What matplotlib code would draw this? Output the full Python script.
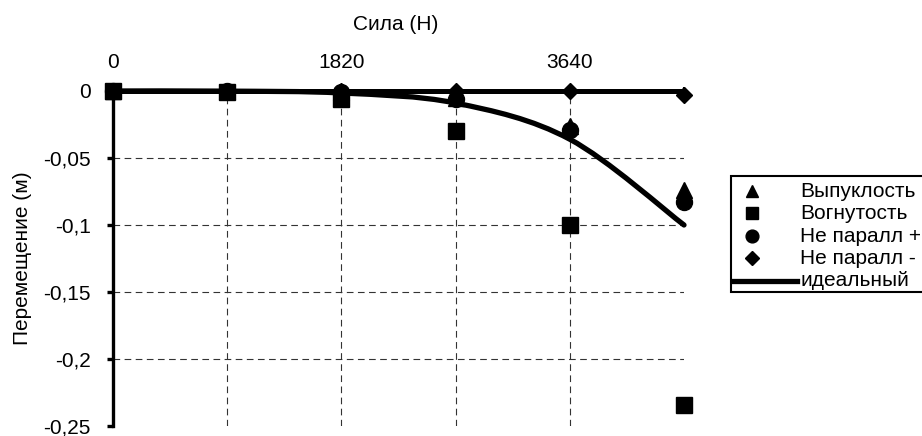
import numpy as np
import matplotlib
matplotlib.use("Agg")
import matplotlib.pyplot as plt
from matplotlib.path import Path
from matplotlib.patches import PathPatch, Rectangle
from matplotlib.lines import Line2D
from matplotlib.ticker import FuncFormatter

plt.rcParams['font.family'] = ['Liberation Sans', 'DejaVu Sans']

force = [0, 910, 1820, 2730, 3640, 4550]
vypukl = [0, 0, -0.001, -0.005, -0.026, -0.074]
vognut = [0, -0.001, -0.006, -0.030, -0.100, -0.234]
neparal_plus = [0, 0, -0.001, -0.006, -0.029, -0.083]
neparal_minus = [0, 0, 0, 0, 0, -0.003]
ideal = [0, -0.0001, -0.0015, -0.009, -0.036, -0.100]

x_labels = {0: '0', 1820: '1820', 3640: '3640'}
y_ticks = [0, -0.05, -0.1, -0.15, -0.2, -0.25]
labels = ['Выпуклость', 'Вогнутость', 'Не паралл +', 'Не паралл -', 'идеальный']

W, H = 922, 436
FS = 15

fig = plt.figure(figsize=(W / 100, H / 100), dpi=100)
ax = fig.add_axes([113/W, 10/H, 571/W, 335/H])
ax.set_xlim(0, 4550)
ax.set_ylim(-0.25, 0)

# dashed grid
for xv in force[1:-1]:
    ax.axvline(xv, color='#333333', lw=0.8, ls=(0, (6, 4)), zorder=1)
for yv in y_ticks[1:-1]:
    ax.axhline(yv, color='#333333', lw=0.8, ls=(0, (6, 4)), zorder=1)

for s in ['bottom', 'right']:
    ax.spines[s].set_visible(False)
ax.spines['left'].set_linewidth(2.4)
ax.spines['top'].set_linewidth(3.6)
ax.spines['left'].set_zorder(3)
ax.spines['top'].set_zorder(3)

ax.xaxis.tick_top()
ax.set_xticks(force)
ax.set_xticklabels([x_labels.get(f, '') for f in force])
ax.tick_params(axis='x', direction='out', length=3, width=1.5, pad=11, labelsize=FS)
ax.set_yticks(y_ticks)
ax.yaxis.set_major_formatter(FuncFormatter(lambda v, p: ('%g' % v).replace('.', ',')))
ax.tick_params(axis='y', direction='out', length=4, width=2.4, pad=12, labelsize=FS)

# smoothed ideal line, excel-like
pts = np.column_stack([force, ideal]).astype(float)
ext = np.vstack([pts[0], pts, pts[-1]])
verts = [tuple(pts[0])]
codes = [Path.MOVETO]
for i in range(len(pts) - 1):
    p0, p1, p2, p3 = ext[i], ext[i+1], ext[i+2], ext[i+3]
    c1 = p1 + (p2 - p0) / 6.0
    c2 = p2 - (p3 - p1) / 6.0
    verts += [tuple(c1), tuple(c2), tuple(p2)]
    codes += [Path.CURVE4] * 3
ax.add_patch(PathPatch(Path(verts, codes), facecolor='none', edgecolor='black',
                       lw=3.8, capstyle='round', zorder=4, clip_on=False))

styles = [('^', 11.5), ('s', 11), ('o', 11.5), ('D', 8.5)]
for ys, (mk, ms) in zip([vypukl, vognut, neparal_plus, neparal_minus], styles):
    ax.plot(force, ys, ls='none', marker=mk, ms=ms, color='black', zorder=5, clip_on=False)

fig.text(396/W, 1 - 24/H, 'Сила (Н)', ha='center', va='center', fontsize=FS)
fig.text(22/W, 1 - 258/H, 'Перемещение (м)', ha='center', va='center', rotation=90, fontsize=FS)

# legend drawn by hand
fig.patches.append(Rectangle((731/W, 1 - 292/H), 200/W, 116/H, transform=fig.transFigure,
                             facecolor='white', edgecolor='black', lw=1.5))
row_y = [191, 213, 236, 258, 281]
for (mk, ms), lab, ry in zip(styles, labels, row_y):
    fig.lines.append(Line2D([752/W], [1 - ry/H], ls='none', marker=mk, ms=ms * 0.8,
                            color='black', transform=fig.transFigure))
    fig.text(800/W, 1 - ry/H, lab, ha='left', va='center', fontsize=FS)
fig.lines.append(Line2D([733/W, 797/W], [1 - row_y[-1]/H] * 2, color='black', lw=3.8,
                        transform=fig.transFigure))
fig.text(800/W, 1 - row_y[-1]/H, labels[-1], ha='left', va='center', fontsize=FS)

fig.savefig('out.png', dpi=100)
